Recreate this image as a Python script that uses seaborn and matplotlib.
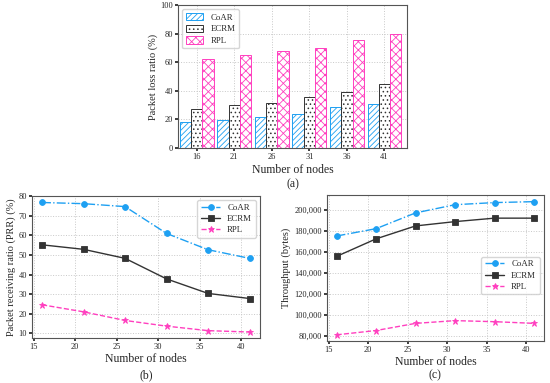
import numpy as np
import pandas as pd
import matplotlib
matplotlib.use("Agg")
import matplotlib.pyplot as plt
from matplotlib.patches import Patch
from matplotlib.ticker import FuncFormatter
import seaborn as sns

# ---- data ----
nodes = [16, 21, 26, 31, 36, 41]
series = ["CoAR", "ECRM", "RPL"]

loss_coar = [18.5, 19.5, 21.5, 23.5, 28.5, 30.5]
loss_ecrm = [27.5, 30.0, 31.5, 36.0, 39.0, 44.5]
loss_rpl = [62.5, 65.0, 67.5, 70.0, 75.5, 80.0]

prr_coar = [76.8, 76.2, 74.7, 61.0, 52.7, 48.3]
prr_ecrm = [55.2, 52.9, 48.3, 37.8, 30.4, 27.8]
prr_rpl = [24.6, 21.0, 16.6, 13.7, 11.4, 10.7]

thr_coar = [175000, 182000, 197000, 204800, 206800, 207700]
thr_ecrm = [155600, 172300, 184600, 188700, 192000, 192000]
thr_rpl = [81000, 85100, 91900, 94500, 93500, 91900]

colors = {"CoAR": "#1ea0f2", "ECRM": "#333333", "RPL": "#ff3fbf"}
hatches = {"CoAR": "//////", "ECRM": "....", "RPL": "xxxx"}

sns.set_theme(style="whitegrid")
plt.rcParams["font.family"] = ["Liberation Serif", "DejaVu Serif"]
plt.rcParams["hatch.linewidth"] = 0.6
plt.rcParams["grid.linestyle"] = ":"
plt.rcParams["grid.color"] = "#c8c8c8"
plt.rcParams["grid.linewidth"] = 0.7
plt.rcParams["axes.edgecolor"] = "#555555"
plt.rcParams["axes.linewidth"] = 0.8

fig = plt.figure(figsize=(5.5, 3.83), dpi=100)

ax_a = fig.add_axes([0.3236, 0.6136, 0.4164, 0.3734])
ax_b = fig.add_axes([0.0576, 0.1162, 0.415, 0.372])
ax_c = fig.add_axes([0.594, 0.1084, 0.395, 0.3825])

tick_fs = 6.0
lab_fs = 7.5

# ---- (a) bar chart ----
df_a = pd.DataFrame({
    "nodes": [str(n) for n in nodes] * 3,
    "val": loss_coar + loss_ecrm + loss_rpl,
    "proto": [s for s in series for _ in nodes],
})
sns.barplot(data=df_a, x="nodes", y="val", hue="proto", hue_order=series,
            ax=ax_a, width=0.9, gap=0, legend=False)
for cont, s in zip(ax_a.containers, series):
    for p in cont.patches:
        p.set_facecolor("white")
        p.set_edgecolor(colors[s])
        p.set_hatch(hatches[s])
        p.set_linewidth(0.7)
ax_a.set_ylim(0, 100)
ax_a.set_xlim(-0.5, 5.6)
ax_a.set_yticks([0, 20, 40, 60, 80, 100])
ax_a.set_xlabel("Number of nodes\n(a)", fontsize=lab_fs + 1, labelpad=2, linespacing=1.3)
ax_a.set_ylabel("Packet loss ratio (%)", fontsize=lab_fs, labelpad=2)
ax_a.tick_params(labelsize=tick_fs, pad=1.5, length=2, left=True, bottom=True)
handles = [Patch(facecolor="white", edgecolor=colors[s], hatch=hatches[s], linewidth=0.7, label=s)
           for s in series]
leg = ax_a.legend(handles=handles, loc="upper left", fontsize=6.3, frameon=True,
                  handlelength=2.0, handleheight=0.9, borderpad=0.4, labelspacing=0.35)
leg.get_frame().set_edgecolor("#cccccc")
ax_a.grid(True, axis="both")
ax_a.set_axisbelow(True)

# ---- line charts ----
line_styles = {"CoAR": ("-.", "o", 4.2), "ECRM": ("-", "s", 4.0), "RPL": ("--", "*", 4.6)}

def draw_lines(ax, vals):
    for s, v in zip(series, vals):
        ls, mk, ms = line_styles[s]
        sns.lineplot(x=nodes, y=v, ax=ax, color=colors[s], linestyle=ls, marker=mk,
                     markersize=ms, markeredgewidth=0.6, markeredgecolor=colors[s],
                     linewidth=1.0, label=s)
    ax.set_xticks([15, 20, 25, 30, 35, 40])
    ax.tick_params(labelsize=tick_fs, pad=1.5, length=2, left=True, bottom=True)
    ax.grid(True)

draw_lines(ax_b, [prr_coar, prr_ecrm, prr_rpl])
ax_b.set_yticks([10, 20, 30, 40, 50, 60, 70, 80])
ax_b.set_xlabel("Number of nodes\n(b)", fontsize=lab_fs + 1, labelpad=1, linespacing=1.55)
ax_b.set_ylabel("Packet receiving ratio (PRR) (%)", fontsize=lab_fs, labelpad=2)
leg = ax_b.legend(loc="upper right", fontsize=6.3, handlelength=2.2, borderpad=0.4,
                  labelspacing=0.35)
leg.get_frame().set_edgecolor("#cccccc")

draw_lines(ax_c, [thr_coar, thr_ecrm, thr_rpl])
ax_c.set_yticks([80000, 100000, 120000, 140000, 160000, 180000, 200000])
ax_c.yaxis.set_major_formatter(FuncFormatter(lambda v, p: f"{int(v):,}"))
ax_c.set_xlabel("Number of nodes\n(c)", fontsize=lab_fs + 1, labelpad=1, linespacing=1.2)
ax_c.set_ylabel("Throughput (bytes)", fontsize=lab_fs, labelpad=2)
leg = ax_c.legend(loc="center right", bbox_to_anchor=(1.0, 0.45), fontsize=6.3,
                  handlelength=2.2, borderpad=0.4, labelspacing=0.35)
leg.get_frame().set_edgecolor("#cccccc")

fig.savefig("out.png", dpi=100)
